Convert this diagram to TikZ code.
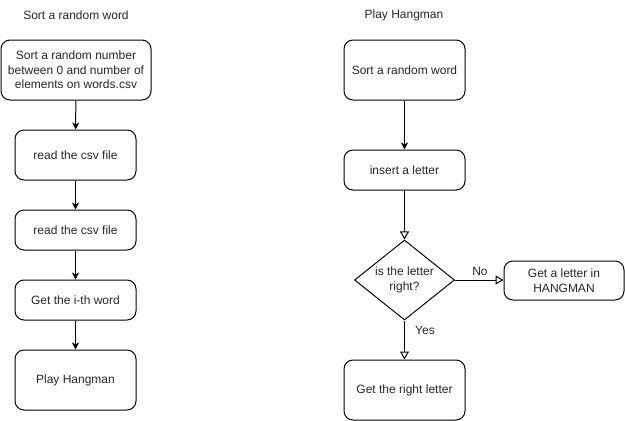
\documentclass[tikz,border=0pt]{standalone}
\usepackage{fontspec}
\setmainfont{Liberation Sans}
\usetikzlibrary{arrows.meta}
\usetikzlibrary{shapes.geometric}

\begin{document}
\begin{tikzpicture}[x=1pt,y=-1pt,
  every node/.style={font=\fontsize{12}{14.5}\selectfont,text=black!85},
  stepbox/.style={draw,line width=1pt,rounded corners=9pt,align=center,inner sep=0pt},
  decision/.style={draw,line width=1pt,diamond,aspect=1.25,inner sep=0pt,minimum width=100pt,minimum height=80pt,align=center},
  flow/.style={line width=1pt,-{Stealth[length=7pt,width=7pt,inset=2pt]}},
  openflow/.style={line width=1pt,-{Triangle[open,length=8pt,width=9pt]}}]
\useasboundingbox (0,0) rectangle (625,421);

% left column
\node (leftTitle) at (76,15) {Sort a random word};
\node[stepbox,minimum width=150pt,minimum height=60pt] (sortNumber) at (76,70) {Sort a random number\\between 0 and number of\\elements on words.csv};
\node[stepbox,minimum width=121pt,minimum height=50pt] (readFileA) at (75.5,155) {read the csv file};
\node[stepbox,minimum width=121pt,minimum height=40pt] (readFileB) at (75.5,230) {read the csv file};
\node[stepbox,minimum width=121pt,minimum height=40pt] (getWord) at (75.5,300) {Get the i-th word};
\node[stepbox,minimum width=121pt,minimum height=60pt] (playGame) at (75.5,380) {Play Hangman};

\draw[flow] (sortNumber) -- (readFileA);
\draw[flow] (readFileA) -- (readFileB);
\draw[flow] (readFileB) -- (getWord);
\draw[flow] (getWord) -- (playGame);

% right column
\node (rightTitle) at (404,15) {Play Hangman};
\node[stepbox,minimum width=121pt,minimum height=60pt] (sortWord) at (404.5,70) {Sort a random word};
\node[stepbox,minimum width=121pt,minimum height=40pt] (insertLetter) at (404.5,170) {insert a letter};
\node[decision] (isRight) at (404.5,280) {is the letter\\right?};
\node[stepbox,minimum width=120pt,minimum height=39pt] (wrongLetter) at (564,280.5) {Get a letter in\\HANGMAN};
\node[stepbox,minimum width=121pt,minimum height=60pt] (rightLetter) at (404.5,390) {Get the right letter};

\draw[flow] (sortWord) -- (insertLetter);
\draw[openflow] (insertLetter) -- (isRight);
\draw[openflow] (isRight.east) -- (wrongLetter.west|-isRight.east);
\draw[openflow] (isRight) -- (rightLetter);

\node (noLabel) at (480,271) {No};
\node (yesLabel) at (425,330) {Yes};

\end{tikzpicture}
\end{document}
